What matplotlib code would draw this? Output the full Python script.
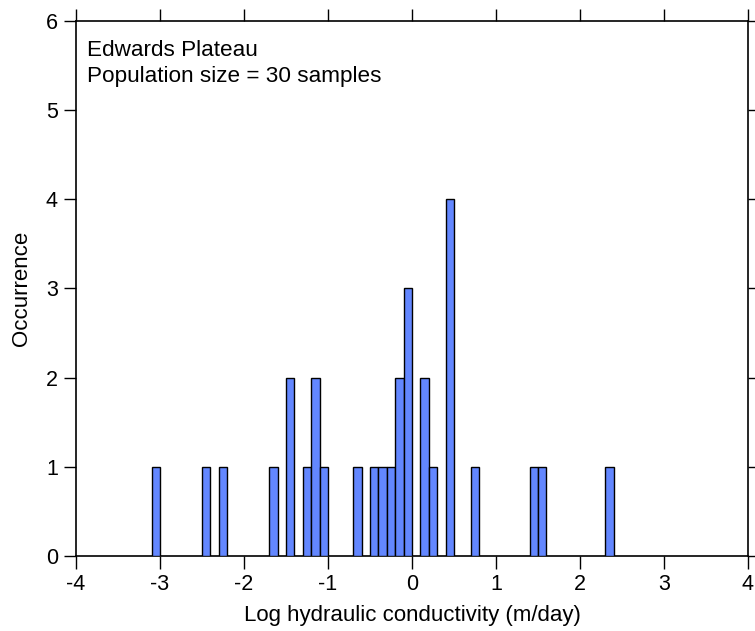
import matplotlib
matplotlib.use("Agg")
import matplotlib.pyplot as plt

plt.rcParams['font.family'] = ['Liberation Sans', 'DejaVu Sans']
plt.rcParams['axes.unicode_minus'] = False

# Bin left edges (log hydraulic conductivity, m/day) and counts
bin_left = [-3.1, -2.5, -2.3, -1.7, -1.5, -1.3, -1.2, -1.1,
            -0.7, -0.5, -0.4, -0.3, -0.2, -0.1,
            0.1, 0.2, 0.4, 0.7, 1.4, 1.5, 2.3]
counts = [1, 1, 1, 1, 2, 1, 2, 1,
          1, 1, 1, 1, 2, 3,
          2, 1, 4, 1, 1, 1, 1]
bin_width = 0.1
xticks = [-4, -3, -2, -1, 0, 1, 2, 3, 4]
yticks = [0, 1, 2, 3, 4, 5, 6]

fig = plt.figure(figsize=(7.55, 6.31), dpi=100)
ax = fig.add_axes([0.1007, 0.1189, 0.8900, 0.8478])

ax.bar(bin_left, counts, width=bin_width, align='edge',
       color='#6387ff', edgecolor='black', linewidth=1.0, zorder=3)

ax.set_xlim(-4, 4)
ax.set_ylim(0, 6)
ax.set_xticks(xticks)
ax.set_yticks(yticks)
ax.tick_params(axis='both', which='major', direction='out', length=9, width=1,
               labelsize=15.5, top=True, right=True, labeltop=False, labelright=False,
               pad=4)
for s in ax.spines.values():
    s.set_linewidth(1.2)

ax.set_xlabel('Log hydraulic conductivity (m/day)', fontsize=16, labelpad=7)
ax.set_ylabel('Occurrence', fontsize=16, labelpad=10)

ax.text(0.016, 0.935, 'Edwards Plateau', transform=ax.transAxes,
        fontsize=16.2, va='baseline', ha='left')
ax.text(0.016, 0.8866, 'Population size = 30 samples', transform=ax.transAxes,
        fontsize=16.2, va='baseline', ha='left')

fig.savefig('out.png', dpi=100)
